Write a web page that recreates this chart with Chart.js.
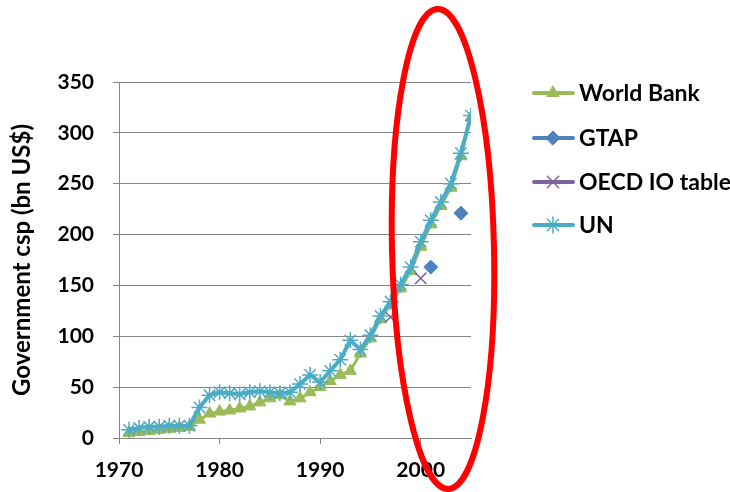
<!DOCTYPE html>
<html>
<head>
<meta charset="utf-8">
<script src="https://cdn.jsdelivr.net/npm/chart.js@4.4.1/dist/chart.umd.min.js"></script>
<style>
  html, body { margin: 0; padding: 0; background: #fff; }
  #wrap { width: 730px; height: 492px; }
</style>
</head>
<body>
<div id="wrap"><canvas id="govChart" width="730" height="492"></canvas></div>
<script>
// ------ data ------//
var years = [1971, 1972, 1973, 1974, 1975, 1976, 1977, 1978, 1979, 1980,
	1981, 1982, 1983, 1984, 1985, 1986, 1987, 1988, 1989, 1990,
	1991, 1992, 1993, 1994, 1995, 1996, 1997, 1998, 1999, 2000,
	2001, 2002, 2003, 2004, 2005]

var worldBank = [5, 6, 7, 8, 9, 10, 11, 18, 24, 26,
	27, 29, 31, 35, 39, 42, 36, 39, 45, 50,
	56, 62, 66, 83, 98, 117, 131, 147, 164, 188,
	210, 228, 246, 277, 315]

var un = [8, 10, 11, 11, 12, 12, 12, 30, 42, 45,
	44, 43, 45, 46, 45, 44, 45, 53, 62, 55,
	66, 77, 96, 87, 101, 120, 134, 151, 168, 193,
	214, 232, 250, 280, 317]

var gtapYears = [2001, 2004]
var gtap = [168, 221]

var oecdYears = [1997, 2000]
var oecd = [119, 157]

var yTicks = [0, 50, 100, 150, 200, 250, 300, 350]
var xTicks = [1970, 1980, 1990, 2000]

var seriesNames = ['World Bank', 'GTAP', 'OECD IO table', 'UN']

// ------ colours ------//
var green = '#9BBB59'
var blue = '#4F81BD'
var purple = '#8064A2'
var teal = '#4BACC6'

var fontFam = 'Lato, "Open Sans", sans-serif'

function pairs(xs, ys) {
	return xs.map(function (x, i) { return { x: x, y: ys[i] } })
}

// legend drawn by hand so it can show line + marker like the original
var legendPlugin = {
	id: 'sideLegend',
	afterDraw: function (chart) {
		var ctx = chart.ctx
		var rows = [93, 138, 182, 225]
		chart.data.datasets.forEach(function (ds, i) {
			var y = rows[i]
			ctx.save()
			ctx.strokeStyle = ds.borderColor
			ctx.lineWidth = 4
			ctx.lineCap = 'round'
			ctx.beginPath()
			ctx.moveTo(534, y)
			ctx.lineTo(573, y)
			ctx.stroke()
			ctx.fillStyle = ds.pointBackgroundColor
			ctx.strokeStyle = ds.pointBorderColor
			ctx.lineWidth = ds.pointBorderWidth
			Chart.helpers.drawPoint(ctx, {
				pointStyle: ds.pointStyle,
				radius: ds.pointRadius,
				borderWidth: ds.pointBorderWidth
			}, 553, y)
			ctx.fillStyle = '#000'
			ctx.font = 'bold 23px ' + fontFam
			ctx.textBaseline = 'middle'
			ctx.textAlign = 'left'
			ctx.fillText(seriesNames[i], 579, y + 1)
			ctx.restore()
		})
	}
}

// the red ring round the recent years
var ringPlugin = {
	id: 'redRing',
	afterDraw: function (chart) {
		var ctx = chart.ctx
		ctx.save()
		ctx.strokeStyle = '#FF0000'
		ctx.lineWidth = 6
		ctx.beginPath()
		ctx.ellipse(443, 249, 51, 240, -0.022, 0, Math.PI * 2)
		ctx.stroke()
		ctx.restore()
	}
}

var ctx = document.getElementById('govChart')
var myChart = new Chart(ctx, {
	type: 'line',
	data: {
		datasets: [{
			label: seriesNames[0],
			data: pairs(years, worldBank),
			borderColor: green,
			backgroundColor: green,
			borderWidth: 3,
			pointStyle: 'triangle',
			pointRadius: 7,
			pointBorderWidth: 1,
			pointBackgroundColor: green,
			pointBorderColor: green,
			tension: 0,
			order: 3
		}, {
			label: seriesNames[1],
			data: pairs(gtapYears, gtap),
			showLine: false,
			borderColor: blue,
			backgroundColor: blue,
			pointStyle: 'rectRot',
			pointRadius: 7,
			pointBorderWidth: 1,
			pointBackgroundColor: blue,
			pointBorderColor: blue,
			order: 1
		}, {
			label: seriesNames[2],
			data: pairs(oecdYears, oecd),
			showLine: false,
			borderColor: purple,
			backgroundColor: purple,
			pointStyle: 'crossRot',
			pointRadius: 8,
			pointBorderWidth: 1.5,
			pointBackgroundColor: purple,
			pointBorderColor: purple,
			order: 2
		}, {
			label: seriesNames[3],
			data: pairs(years, un),
			borderColor: teal,
			backgroundColor: teal,
			borderWidth: 4,
			pointStyle: 'star',
			pointRadius: 8,
			pointBorderWidth: 1.5,
			pointBackgroundColor: teal,
			pointBorderColor: teal,
			tension: 0,
			order: 0
		}]
	},
	options: {
		responsive: false,
		animation: false,
		layout: {
			padding: { left: 0, top: 82, right: 259, bottom: 0 }
		},
		plugins: {
			legend: { display: false },
			tooltip: { enabled: false }
		},
		scales: {
			x: {
				type: 'linear',
				min: 1970,
				max: 2005,
				afterBuildTicks: function (axis) {
					axis.ticks = xTicks.map(function (v) { return { value: v } })
				},
				afterFit: function (axis) { axis.height = 54 },
				border: { color: '#868686', width: 1 },
				grid: {
					drawOnChartArea: false,
					drawTicks: true,
					tickLength: 6,
					color: '#868686'
				},
				ticks: {
					padding: 14,
					color: '#000',
					maxRotation: 0,
					callback: function (v) { return String(v) },
					font: { family: fontFam, size: 21, weight: 'bold' }
				}
			},
			y: {
				min: 0,
				max: 350,
				afterBuildTicks: function (axis) {
					axis.ticks = yTicks.map(function (v) { return { value: v } })
				},
				afterFit: function (axis) { axis.width = 119 },
				border: { color: '#868686', width: 1 },
				grid: {
					color: '#868686',
					tickLength: 6
				},
				ticks: {
					padding: 19,
					color: '#000',
					font: { family: fontFam, size: 21, weight: 'bold' }
				},
				title: {
					display: true,
					text: 'Government csp (bn US$)',
					color: '#000',
					padding: { top: 8, bottom: 0 },
					font: { family: fontFam, size: 24, weight: 'bold' }
				}
			}
		}
	},
	plugins: [legendPlugin, ringPlugin]
})
</script>
</body>
</html>
